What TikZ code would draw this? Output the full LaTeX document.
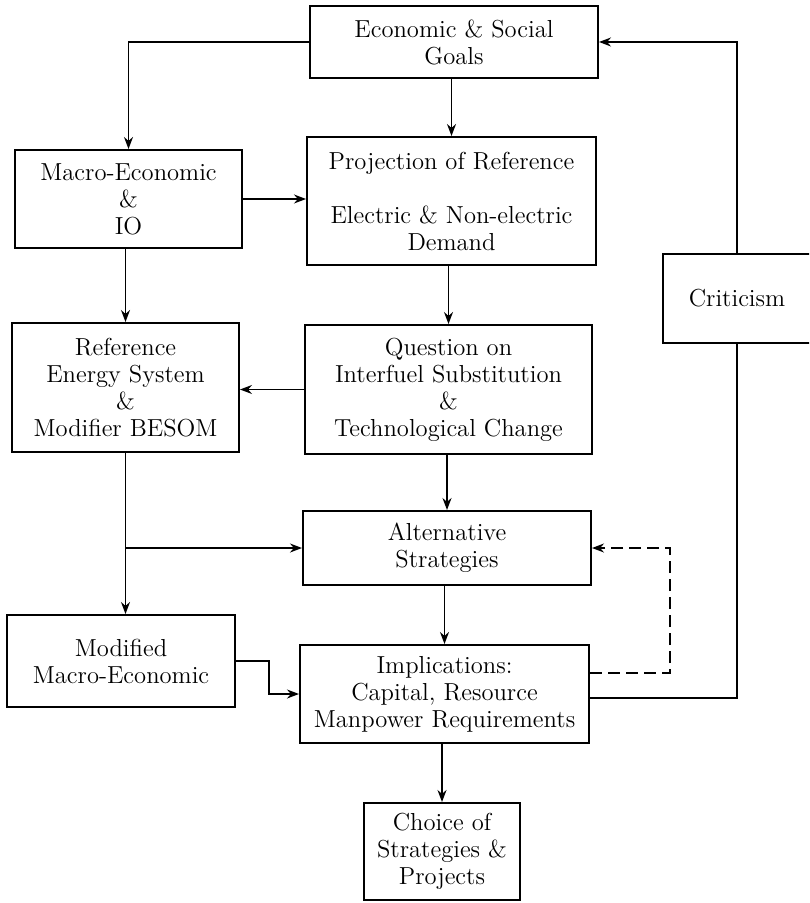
\documentclass[tikz,border=0pt]{standalone}
\usepackage{tikz}
\usetikzlibrary{arrows.meta,calc}

\begin{document}
\begin{tikzpicture}[x=0.5pt, y=-0.5pt, >={Stealth[length=6pt,width=4.5pt]}, line width=0.75pt,
  blk/.style={draw, line width=1pt, align=center, inner sep=0pt, font=\fontsize{12.3}{13.5}\selectfont}]
\clip (0,0) rectangle (809,903);
% boites du haut
\node[blk, minimum width=144pt, minimum height=36pt] (goals) at (454,42) {Economic \& Social\\Goals};
\node[blk, minimum width=113.5pt, minimum height=49pt] (macro) at (128.5,199) {Macro-Economic\\\&\\IO};
\node[blk, minimum width=144.5pt, minimum height=64pt] (proj) at (451.5,201) {Projection of Reference\\[13.5pt]Electric \& Non-electric\\Demand};
\node[blk, minimum width=74pt, minimum height=44.5pt] (crit) at (737,298.5) {Criticism};
% milieu
\node[blk, minimum width=113.5pt, minimum height=64.5pt] (ref) at (125.5,387.5) {Reference\\Energy System\\\&\\Modifier BESOM};
\node[blk, minimum width=143.5pt, minimum height=64.5pt] (quest) at (448.5,389.5) {Question on\\Interfuel Substitution\\\&\\Technological Change};
\node[blk, minimum width=144pt, minimum height=37pt] (alt) at (447,548) {Alternative\\Strategies};
% bas
\node[blk, minimum width=114pt, minimum height=46pt] (mod) at (121,661) {Modified\\Macro-Economic};
\node[blk, minimum width=144.5pt, minimum height=49pt] (impl) at (444.5,694) {Implications:\\Capital, Resource\\Manpower Requirements};
\node[blk, minimum width=78pt, minimum height=48.5pt] (choice) at (442,851.5) {Choice of\\Strategies \&\\Projects};
% fleches
\draw[->] (goals.west) -| (macro.north);
\draw[->] (proj.north |- goals.south) -- (proj.north);
\draw[->] (macro.east) -- (macro.east -| proj.west);
\draw[->] (crit.north) |- (goals.east);
\draw[->] (ref.north |- macro.south) -- (ref.north);
\draw[->] (quest.north |- proj.south) -- (quest.north);
\draw[->] (quest.west) -- (quest.west -| ref.east);
\draw[->] (quest.south -| alt.north) -- (alt.north);
\coordinate (br) at (ref.south |- alt.west);
\draw[->] (ref.south) -- (ref.south |- mod.north);
\draw[->] (br) -- (alt.west);
\draw[->] (impl.north |- alt.south) -- (impl.north);
\draw[->] (mod.east) -- ++(33,0) |- (impl.west);
\draw[->, dash pattern=on 6pt off 3pt] ($(impl.east)+(0,-21)$) -- ++(80,0) |- (alt.east);
\draw ($(impl.east)+(0,4)$) -| (crit.south);
\draw[->] (choice.north |- impl.south) -- (choice.north);
\end{tikzpicture}
\end{document}
